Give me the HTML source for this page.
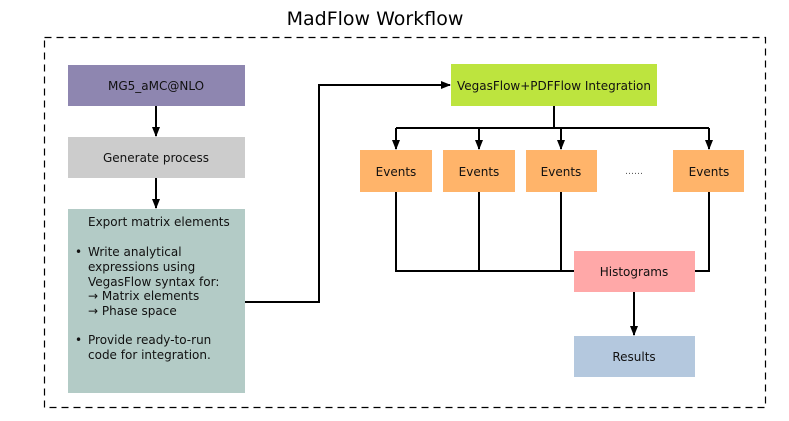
<!DOCTYPE html>
<html><head><meta charset="utf-8"><style>
html,body{margin:0;padding:0;background:#fff;}
svg{display:block;font-family:"DejaVu Sans","Liberation Sans",sans-serif;}
</style></head><body>
<svg width="789" height="421" viewBox="0 0 789 421" xmlns="http://www.w3.org/2000/svg">
<defs><marker id="a" markerWidth="10" markerHeight="10" refX="9" refY="5" orient="auto" markerUnits="userSpaceOnUse"><path d="M0,1 L10,5 L0,9 Z" fill="#000"/></marker></defs>
<text x="375" y="25" font-size="19" text-anchor="middle" fill="#000">MadFlow Workflow</text>
<rect x="44.5" y="37.5" width="721" height="370" fill="none" stroke="#000" stroke-width="1.2" stroke-dasharray="7,5"/>
<g font-size="12" fill="#111" text-anchor="middle">
<rect x="68" y="65" width="177" height="41" fill="#8e86b0"/>
<text x="156" y="90">MG5_aMC@NLO</text>
<rect x="68" y="137" width="177" height="41" fill="#cccccc"/>
<text x="156" y="162">Generate process</text>
<rect x="68" y="209" width="177" height="184" fill="#b3cbc6"/>
<rect x="451" y="64" width="206" height="42" fill="#bde43e"/>
<text x="554" y="90">VegasFlow+PDFFlow Integration</text>
<rect x="360" y="150" width="72" height="42" fill="#ffb46a"/><text x="396" y="176">Events</text>
<rect x="443" y="150" width="72" height="42" fill="#ffb46a"/><text x="479" y="176">Events</text>
<rect x="526" y="150" width="71" height="42" fill="#ffb46a"/><text x="561" y="176">Events</text>
<rect x="673" y="150" width="71" height="42" fill="#ffb46a"/><text x="709" y="176">Events</text>
<text x="634" y="174" font-size="9" fill="#555">……</text>
<rect x="574" y="251" width="121" height="41" fill="#ffa8a8"/><text x="634" y="276">Histograms</text>
<rect x="574" y="336" width="121" height="41" fill="#b4c8de"/><text x="634" y="361">Results</text>
</g>
<g font-size="12" fill="#111">
<text x="88" y="226">Export matrix elements</text>
<text x="75" y="256">•</text>
<text x="88" y="256">Write analytical</text>
<text x="88" y="271">expressions using</text>
<text x="88" y="286">VegasFlow syntax for:</text>
<text x="88" y="300">→ Matrix elements</text>
<text x="88" y="315">→ Phase space</text>
<text x="75" y="344">•</text>
<text x="88" y="344">Provide ready-to-run</text>
<text x="88" y="359">code for integration.</text>
</g>
<g stroke="#000" stroke-width="2" fill="none">
<line x1="156" y1="106" x2="156" y2="136" marker-end="url(#a)"/>
<line x1="156" y1="178" x2="156" y2="208" marker-end="url(#a)"/>
<polyline points="245,302 319,302 319,85 450,85" marker-end="url(#a)"/>
<line x1="554" y1="106" x2="554" y2="128"/>
<line x1="396" y1="128" x2="709" y2="128"/>
<line x1="396" y1="128" x2="396" y2="149" marker-end="url(#a)"/>
<line x1="479" y1="128" x2="479" y2="149" marker-end="url(#a)"/>
<line x1="561" y1="128" x2="561" y2="149" marker-end="url(#a)"/>
<line x1="709" y1="128" x2="709" y2="149" marker-end="url(#a)"/>
<polyline points="396,192 396,271 574,271"/>
<line x1="479" y1="192" x2="479" y2="271"/>
<line x1="561" y1="192" x2="561" y2="271"/>
<polyline points="695,271 709,271 709,192"/>
<line x1="634" y1="292" x2="634" y2="335" marker-end="url(#a)"/>
</g>
</svg>
</body></html>
